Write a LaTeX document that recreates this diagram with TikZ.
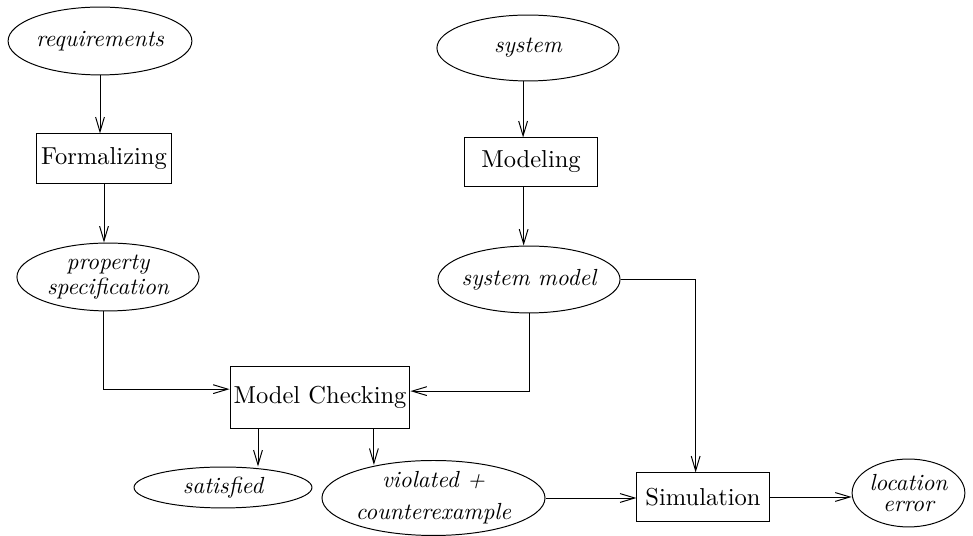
\documentclass[tikz,border=0pt]{standalone}
\usetikzlibrary{shapes,arrows.meta,positioning,calc}

\begin{document}
\begin{tikzpicture}[x=0.408pt, y=-0.408pt,
        proc/.style={draw, rectangle, inner sep=0pt, font=\normalsize},
        data/.style={draw, ellipse, inner sep=0pt, font=\fontsize{9.5pt}{11pt}\selectfont\itshape, align=center},
        flow/.style={-{Straight Barb[length=6pt,width=3.6pt]}, thin}]
        \useasboundingbox (0,0) rectangle (973,536);

        % Requirements branch
        \node[data, minimum width=75pt, minimum height=27.7pt] (req) at (100,41) {requirements};
        \node[proc, minimum width=54.7pt, minimum height=20pt] (form) at (104,158.5) {Formalizing};
        \node[data, minimum width=74.3pt, minimum height=27.7pt] (prop) at (108,277) {property\\[-1pt]specification};

        % System branch
        \node[data, minimum width=74.3pt, minimum height=26.9pt] (sys) at (528,48) {system};
        \node[proc, minimum width=53.9pt, minimum height=19.6pt] (mod) at (531,162) {Modeling};
        \node[data, inner xsep=-1.4pt, minimum width=74.3pt, minimum height=27.3pt] (sysm) at (529,279.5) {system model};

        % Checking and results
        \node[proc, minimum width=73.4pt, minimum height=24.9pt] (mc) at (320,397.5) {Model Checking};
        \node[data, minimum width=72.6pt, minimum height=16.7pt] (sat) at (223,487.5) {satisfied};
        \node[data, minimum width=91pt, minimum height=29.4pt] (vio) at (433.5,498) {violated +\\[2.2pt]counterexample};
        \node[proc, minimum width=53.9pt, minimum height=19.6pt] (sim) at (703,497) {Simulation};
        \node[data, minimum width=46pt, minimum height=27.7pt] (loc) at (908.5,493) {location\\[-2.6pt]error};

        % Arrows
        \draw[flow] (req.south) -- (req.south |- form.north);
        \draw[flow] (form.south) -- (form.south |- prop.north);
        \draw[flow] ([xshift=-2pt]sys.south) -- ([xshift=-2pt]sys.south |- mod.north);
        \draw[flow] ([xshift=-3pt]mod.south) -- ([xshift=-3pt]mod.south |- sysm.north);
        \draw[flow] ([xshift=-2pt]prop.south) |- ([yshift=3.4pt]mc.west);
        \draw[flow] (sysm.south) |- ([yshift=2.6pt]mc.east);
        \draw[flow] (sysm.east) -| ([xshift=-3pt]sim.north);
        \draw[flow] ([xshift=-25.3pt]mc.south) -- ([xshift=-25.3pt]mc.south |- sat.north);
        \draw[flow] ([xshift=22pt]mc.south) -- ([xshift=22pt,yshift=-2pt]mc.south |- vio.north);
        \draw[flow] (vio.east) -- (vio.east -| sim.west);
        \draw[flow] (sim.east) -- (sim.east -| loc.west);
    \end{tikzpicture}
\end{document}
